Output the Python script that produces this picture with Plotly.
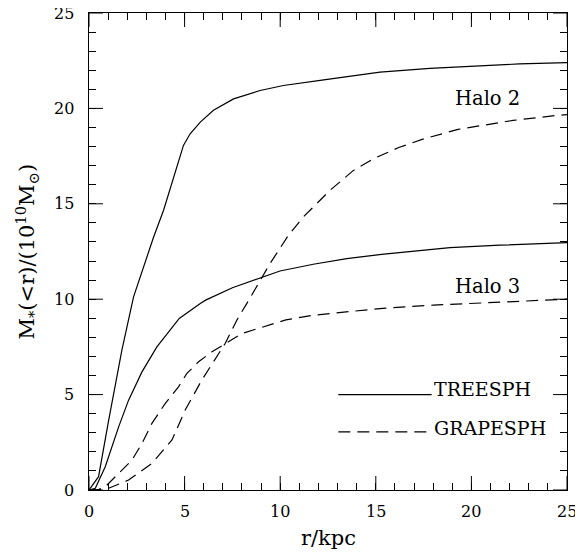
import plotly.graph_objects as go

# ---- data ----
r_halo2_tree = [0, 0.5, 1.03, 1.72, 2.33, 2.85, 3.38, 3.9, 4.42, 4.94, 5.29, 5.82, 6.51, 7.56, 8.95, 10.17, 12.09, 15.22, 17.83, 20.44, 22.5, 25]
m_halo2_tree = [0, 0.7, 3.66, 7.33, 10.12, 11.69, 13.26, 14.66, 16.4, 18.06, 18.67, 19.28, 19.9, 20.5, 20.94, 21.2, 21.47, 21.9, 22.1, 22.25, 22.33, 22.4]

r_halo2_grape = [0, 0.5, 1.03, 2.07, 3.29, 4.34, 5.03, 5.9, 7.12, 7.73, 8.25, 8.95, 9.47, 10.43, 11.21, 11.82, 12.6, 13.83, 14.87, 16.2, 17.5, 19.3, 20.5, 22.18, 24.45, 25]
m_halo2_grape = [0, 0.02, 0.09, 0.52, 1.4, 2.62, 4.19, 5.76, 7.68, 8.9, 9.77, 11.0, 11.87, 13.35, 14.31, 14.92, 15.7, 16.75, 17.36, 17.95, 18.4, 18.9, 19.1, 19.37, 19.63, 19.67]

r_halo3_tree = [0, 0.33, 0.85, 1.55, 2.07, 2.77, 3.55, 4.72, 5.82, 6.1, 7.5, 8.95, 9.99, 11.73, 13.48, 15.3, 18.88, 21.49, 25]
m_halo3_tree = [0, 0.09, 1.22, 3.31, 4.71, 6.19, 7.5, 8.99, 9.77, 9.95, 10.6, 11.13, 11.48, 11.83, 12.13, 12.35, 12.7, 12.83, 12.97]

r_halo3_grape = [0, 0.5, 0.85, 1.55, 2.25, 2.77, 3.29, 3.99, 4.68, 5.12, 5.73, 6.43, 7.12, 7.99, 8.86, 10.3, 11.73, 13.48, 15.22, 18.0, 21.49, 24.27, 25]
m_halo3_grape = [0, 0.02, 0.17, 0.87, 1.57, 2.44, 3.49, 4.54, 5.41, 6.11, 6.72, 7.24, 7.68, 8.2, 8.47, 8.92, 9.16, 9.34, 9.51, 9.69, 9.86, 9.98, 10.0]

legend_x = [13.04, 17.92]
legend_y_tree = [5.0, 5.0]
legend_y_grape = [3.05, 3.05]
legend_labels = ["TREESPH", "GRAPESPH"]
legend_label_y = [5.29, 3.27]
halo_labels = ["Halo 2", "Halo 3"]
halo_label_x = [19.05, 19.05]
halo_label_y = [20.5, 10.64]

axis_range = [0, 25]
major_ticks = [0, 5, 10, 15, 20, 25]
tick_labels = ["0", "5", "10", "15", "20", "25"]
minor_step = 1
x_title = "r/kpc"
y_title = "M<sub>*</sub>(&lt;r)/(10<sup>10</sup>M<sub>⊙</sub>)"

FONT = "DejaVu Serif"
DASH = "12px,7px"
LW = 1.2
MAJOR_LEN = 14

fig = go.Figure()

def add_line(x, y, dash):
    fig.add_trace(go.Scatter(x=x, y=y, mode="lines",
                             line=dict(color="black", width=LW, dash=dash),
                             showlegend=False, hoverinfo="skip"))

add_line(r_halo2_tree, m_halo2_tree, "solid")
add_line(r_halo2_grape, m_halo2_grape, DASH)
add_line(r_halo3_tree, m_halo3_tree, "solid")
add_line(r_halo3_grape, m_halo3_grape, DASH)
add_line(legend_x, legend_y_tree, "solid")
add_line(legend_x, legend_y_grape, DASH)

for lab, yy in zip(legend_labels, legend_label_y):
    fig.add_annotation(x=legend_x[1], y=yy, text=lab, showarrow=False,
                       xanchor="left", yanchor="middle",
                       font=dict(family=FONT, size=19, color="black"))

for lab, xx, yy in zip(halo_labels, halo_label_x, halo_label_y):
    fig.add_annotation(x=xx, y=yy, text=lab, showarrow=False,
                       xanchor="left", yanchor="middle",
                       font=dict(family=FONT, size=19.5, color="black"))

# major (long) inward ticks on all four sides, placed through the axis scales
tick_line = dict(color="black", width=1)
for v in major_ticks:
    fig.add_shape(type="line", xref="x", yref="paper", ysizemode="pixel", yanchor=0,
                  x0=v, x1=v, y0=0, y1=MAJOR_LEN, line=tick_line)
    fig.add_shape(type="line", xref="x", yref="paper", ysizemode="pixel", yanchor=1,
                  x0=v, x1=v, y0=0, y1=-MAJOR_LEN, line=tick_line)
    fig.add_shape(type="line", yref="y", xref="paper", xsizemode="pixel", xanchor=0,
                  y0=v, y1=v, x0=0, x1=MAJOR_LEN, line=tick_line)
    fig.add_shape(type="line", yref="y", xref="paper", xsizemode="pixel", xanchor=1,
                  y0=v, y1=v, x0=0, x1=-MAJOR_LEN, line=tick_line)

# tick labels, positioned through the axis scales
tick_font = dict(family=FONT, size=16, color="black")
for v, lab in zip(major_ticks, tick_labels):
    fig.add_annotation(x=v, xref="x", y=0, yref="paper", text=lab, showarrow=False,
                       xanchor="center", yanchor="middle", yshift=-21, font=tick_font)
    fig.add_annotation(x=0, xref="paper", y=v, yref="y", text=lab, showarrow=False,
                       xanchor="right", yanchor="middle", xshift=-13, font=tick_font)

# axis titles
fig.add_annotation(x=0.5, xref="paper", y=0, yref="paper", text=x_title, showarrow=False,
                   xanchor="center", yanchor="middle", yshift=-48,
                   font=dict(family=FONT, size=21, color="black"))
fig.add_annotation(x=0, xref="paper", y=0.5, yref="paper", text=y_title, showarrow=False,
                   textangle=-90, xanchor="center", yanchor="middle", xshift=-63,
                   font=dict(family=FONT, size=21, color="black"))

# axes: frame + minor (short) inward ticks on all sides
def axis_style():
    return dict(
        range=axis_range, tick0=0, dtick=minor_step, ticks="inside", ticklen=7, tickwidth=1,
        tickcolor="black", showline=True, linecolor="black", linewidth=1.2,
        mirror="ticks", showgrid=False, zeroline=False, automargin=False,
        showticklabels=False,
    )

# page body has an 8px margin, so the figure is drawn 8px in from the top-left
fig.update_layout(
    width=575, height=544,
    margin=dict(l=81, r=16, t=5, b=62),
    plot_bgcolor="white", paper_bgcolor="white",
    xaxis=axis_style(),
    yaxis=axis_style(),
)

fig.write_html("out.html")
